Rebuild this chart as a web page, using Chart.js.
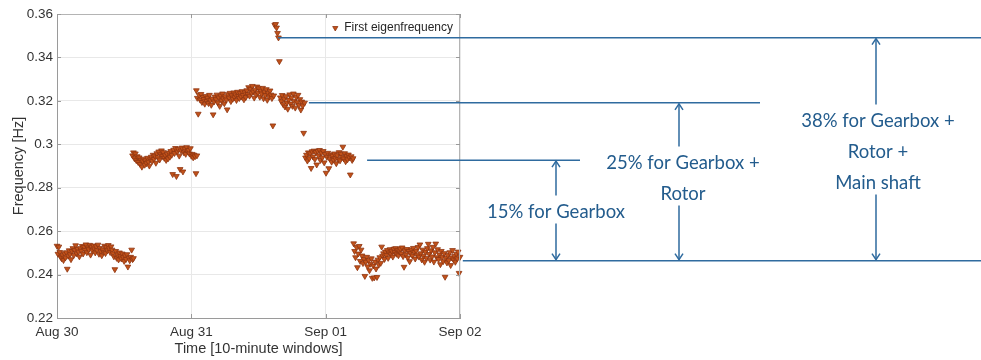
<!DOCTYPE html>
<html>
<head>
<meta charset="utf-8">
<script src="https://cdn.jsdelivr.net/npm/chart.js@4.4.1/dist/chart.umd.min.js"></script>
<style>
  html, body { margin: 0; padding: 0; background: #ffffff; }
  canvas { display: block; }
</style>
</head>
<body>
<canvas id="chart" width="981" height="360"></canvas>
<script>
// Time axis: hours since Aug 30 00:00
const xTickHours = [0, 24, 48, 72];
const xTickLabels = ['Aug 30', 'Aug 31', 'Sep 01', 'Sep 02'];
const yTickValues = [0.22, 0.24, 0.26, 0.28, 0.30, 0.32, 0.34, 0.36];
const yTickLabels = ['0.22', '0.24', '0.26', '0.28', '0.3', '0.32', '0.34', '0.36'];

// Identified first eigenfrequency [Hz], one value per 10-minute window.
// Each run starts at the given hour and continues without gaps.
const runStartHours = [0.0, 13.5, 24.9, 44.4, 53.0];

const freqRun1 = [
  0.2532, 0.2495, 0.2528, 0.2503, 0.2481, 0.2474, 0.2489, 0.2466, 0.2497, 0.2478,
  0.2502, 0.2426, 0.2486, 0.2511, 0.2493, 0.2470, 0.2508, 0.2521, 0.2489, 0.2512,
  0.2534, 0.2497, 0.2518, 0.2505, 0.2483, 0.2521, 0.2509, 0.2531, 0.2496, 0.2527,
  0.2513, 0.2538, 0.2502, 0.2524, 0.2516, 0.2536, 0.2491, 0.2528, 0.2510, 0.2533,
  0.2519, 0.2501, 0.2529, 0.2512, 0.2537, 0.2495, 0.2522, 0.2507, 0.2488, 0.2515,
  0.2504, 0.2532, 0.2498, 0.2526, 0.2511, 0.2535, 0.2520, 0.2503, 0.2529, 0.2514,
  0.2497, 0.2483, 0.2424, 0.2508, 0.2476, 0.2492, 0.2469, 0.2501, 0.2484, 0.2473,
  0.2496, 0.2479, 0.2462, 0.2488, 0.2471, 0.2493, 0.2436, 0.2477, 0.2465, 0.2481,
  0.2514, 0.2470, 0.2475
];

const freqRun2 = [
  0.2948, 0.2962, 0.2935, 0.2957, 0.2926, 0.2944, 0.2918, 0.2939, 0.2909, 0.2928,
  0.2896, 0.2921, 0.2933, 0.2905, 0.2926, 0.2912, 0.2937, 0.2919, 0.2901, 0.2930,
  0.2942, 0.2923, 0.2951, 0.2932, 0.2947, 0.2914, 0.2958, 0.2940, 0.2966, 0.2929,
  0.2953, 0.2971, 0.2945, 0.2963, 0.2937, 0.2949, 0.2927, 0.2955, 0.2934, 0.2961,
  0.2942, 0.2968, 0.2951, 0.2862, 0.2974, 0.2959, 0.2982, 0.2853, 0.2966, 0.2978,
  0.2947, 0.2885, 0.2971, 0.2984, 0.2874, 0.2962, 0.2979, 0.2955, 0.2986, 0.2968,
  0.2973, 0.2957, 0.2981, 0.2946, 0.2955, 0.2939, 0.2951, 0.2944, 0.2866, 0.2948
];

const freqRun3 = [
  0.3248, 0.3213, 0.3140, 0.3226, 0.3205, 0.3231, 0.3194, 0.3217, 0.3208, 0.3186,
  0.3222, 0.3199, 0.3214, 0.3189, 0.3227, 0.3203, 0.3181, 0.3210, 0.3137, 0.3196,
  0.3219, 0.3207, 0.3228, 0.3192, 0.3215, 0.3176, 0.3224, 0.3201, 0.3233, 0.3211,
  0.3188, 0.3221, 0.3205, 0.3160, 0.3230, 0.3214, 0.3236, 0.3198, 0.3225, 0.3209,
  0.3238, 0.3216, 0.3229, 0.3203, 0.3241, 0.3222, 0.3212, 0.3235, 0.3219, 0.3244,
  0.3226, 0.3206, 0.3239, 0.3217, 0.3248, 0.3231, 0.3262, 0.3223, 0.3255, 0.3237,
  0.3268, 0.3242, 0.3214, 0.3251, 0.3229, 0.3265, 0.3238, 0.3257, 0.3218, 0.3246,
  0.3233, 0.3259, 0.3211, 0.3241, 0.3226, 0.3253, 0.3204, 0.3236, 0.3219, 0.3247,
  0.3228, 0.3212, 0.3086, 0.3224, 0.3549, 0.3553, 0.3537, 0.3512, 0.3491, 0.3382,
  0.3215, 0.3198, 0.3226, 0.3184, 0.3209, 0.3173, 0.3221, 0.3192, 0.3163, 0.3205,
  0.3229, 0.3187, 0.3214, 0.3176, 0.3233, 0.3199, 0.3168, 0.3218, 0.3193, 0.3227,
  0.3181, 0.3207, 0.3159, 0.3196, 0.3178, 0.3052, 0.3191
];

const freqRun4 = [
  0.2938, 0.2951, 0.2924, 0.2962, 0.2935, 0.2958, 0.2890, 0.2967, 0.2943, 0.2970,
  0.2931, 0.2964, 0.2906, 0.2969, 0.2948, 0.2973, 0.2927, 0.2961, 0.2939, 0.2968,
  0.2916, 0.2955, 0.2868, 0.2942, 0.2960, 0.2889, 0.2933, 0.2952, 0.2919, 0.2947,
  0.2928, 0.2957, 0.2936, 0.2912, 0.2949, 0.2931, 0.2963, 0.2925, 0.2956, 0.2941,
  0.2988, 0.2934, 0.2958, 0.2921, 0.2946, 0.2930, 0.2952, 0.2939, 0.2860, 0.2944,
  0.2927, 0.2935
];

const freqRun5 = [
  0.2543, 0.2508, 0.2479, 0.2526, 0.2433, 0.2496, 0.2531, 0.2462, 0.2514, 0.2487,
  0.2452, 0.2471, 0.2393, 0.2458, 0.2481, 0.2437, 0.2466, 0.2419, 0.2449, 0.2474,
  0.2384, 0.2441, 0.2386, 0.2459, 0.2427, 0.2388, 0.2468, 0.2445, 0.2479, 0.2453,
  0.2528, 0.2486, 0.2497, 0.2471, 0.2505, 0.2489, 0.2512, 0.2476, 0.2501, 0.2516,
  0.2493, 0.2509, 0.2482, 0.2518, 0.2503, 0.2521, 0.2495, 0.2513, 0.2488, 0.2506,
  0.2519, 0.2497, 0.2524, 0.2484, 0.2435, 0.2511, 0.2492, 0.2517, 0.2478, 0.2508,
  0.2461, 0.2499, 0.2515, 0.2487, 0.2522, 0.2503, 0.2473, 0.2510, 0.2491, 0.2526,
  0.2482, 0.2538, 0.2497, 0.2469, 0.2514, 0.2486, 0.2458, 0.2505, 0.2476, 0.2521,
  0.2541, 0.2494, 0.2468, 0.2511, 0.2483, 0.2527, 0.2459, 0.2502, 0.2542, 0.2479,
  0.2516, 0.2471, 0.2492, 0.2447, 0.2508, 0.2481, 0.2461, 0.2498, 0.2389, 0.2476,
  0.2455, 0.2489, 0.2466, 0.2502, 0.2443, 0.2478, 0.2512, 0.2469, 0.2485, 0.2458,
  0.2495, 0.2474, 0.2505, 0.2407, 0.2481
];

const freqRuns = [freqRun1, freqRun2, freqRun3, freqRun4, freqRun5];
const windowHours = 10 / 60;

// Frequency levels marked on the right-hand side [Hz]
const levelNames     = ['Main shaft', 'Rotor', 'Gearbox', 'Baseline'];
const levelValues    = [0.3491, 0.3191, 0.2927, 0.2464];
const levelFromHours = [39.5, 45.0, 55.4, 72.5];

// Relative change captions, one bracket per level (top to bottom lines of text)
const bracketLevels = [0.2927, 0.3191, 0.3491];
const bracketTexts = [
  ['15% for Gearbox'],
  ['25% for Gearbox +', 'Rotor'],
  ['38% for Gearbox +', 'Rotor +', 'Main shaft']
];

const points = [];
freqRuns.forEach((run, r) => {
  run.forEach((f, i) => points.push({ x: runStartHours[r] + i * windowHours, y: f }));
});

const axisFont = 'Liberation Sans, Arial, Helvetica, sans-serif';
const noteColor = '#235c8d';
const noteLine = '#2f6b9f';

// Box around the axes with inward tick marks on all four sides
const axesBoxPlugin = {
  id: 'axesBox',
  afterDatasetsDraw(chart) {
    const { ctx, chartArea: a, scales } = chart;
    ctx.save();
    ctx.lineWidth = 1;
    ctx.strokeStyle = '#b4b4b4';
    ctx.beginPath();
    ctx.moveTo(a.left, a.top + 0.5); ctx.lineTo(a.right, a.top + 0.5);
    ctx.moveTo(a.right - 0.5, a.top); ctx.lineTo(a.right - 0.5, a.bottom);
    ctx.stroke();
    ctx.strokeStyle = '#9a9a9a';
    ctx.beginPath();
    const t = 4;
    xTickHours.forEach(h => {
      const px = Math.round(scales.x.getPixelForValue(h)) + 0.5;
      ctx.moveTo(px, a.bottom); ctx.lineTo(px, a.bottom - t);
      ctx.moveTo(px, a.top); ctx.lineTo(px, a.top + t);
    });
    yTickValues.forEach(v => {
      const py = Math.round(scales.y.getPixelForValue(v)) + 0.5;
      ctx.moveTo(a.left, py); ctx.lineTo(a.left + t, py);
      ctx.moveTo(a.right, py); ctx.lineTo(a.right - t, py);
    });
    ctx.stroke();
    ctx.restore();
  }
};

// Legend entry in the upper right corner of the axes
const cornerLegendPlugin = {
  id: 'cornerLegend',
  afterDatasetsDraw(chart) {
    const { ctx, chartArea: a } = chart;
    const ds = chart.data.datasets[0];
    ctx.save();
    ctx.font = '12px ' + axisFont;
    const w = ctx.measureText(ds.label).width;
    const tx = a.right - 7 - w;
    const ty = a.top + 14;
    const mx = tx - 9;
    const r = 3;
    ctx.beginPath();
    ctx.moveTo(mx - r * 0.866, ty - r * 0.5);
    ctx.lineTo(mx + r * 0.866, ty - r * 0.5);
    ctx.lineTo(mx, ty + r);
    ctx.closePath();
    ctx.fillStyle = ds.pointBackgroundColor;
    ctx.strokeStyle = ds.pointBorderColor;
    ctx.lineWidth = ds.pointBorderWidth;
    ctx.fill();
    ctx.stroke();
    ctx.fillStyle = '#262626';
    ctx.textBaseline = 'middle';
    ctx.fillText(ds.label, tx, ty);
    ctx.restore();
  }
};

// Level lines and double arrows with captions to the right of the axes
const levelNotesPlugin = {
  id: 'levelNotes',
  afterDraw(chart) {
    const { ctx, scales, width } = chart;
    const yPx = v => scales.y.getPixelForValue(v);
    const lineEnds = [width, 760, 580, width];
    ctx.save();
    ctx.strokeStyle = noteLine;
    ctx.lineWidth = 1.5;
    levelValues.forEach((v, i) => {
      const y = yPx(v);
      ctx.beginPath();
      ctx.moveTo(scales.x.getPixelForValue(levelFromHours[i]), y);
      ctx.lineTo(lineEnds[i], y);
      ctx.stroke();
    });

    const base = yPx(levelValues[3]);
    const arrowX = [556, 679, 876];
    const textX = [556, 683, 878];
    const firstLineY = [212.5, 163.5, 121.5];
    const lineGap = 31;
    const head = (x, y, dir) => {
      ctx.beginPath();
      ctx.moveTo(x - 4, y - dir * 6);
      ctx.lineTo(x, y);
      ctx.lineTo(x + 4, y - dir * 6);
      ctx.stroke();
    };

    ctx.font = '18.5px Lato, "Open Sans", sans-serif';
    ctx.textAlign = 'center';
    ctx.textBaseline = 'middle';
    ctx.fillStyle = noteColor;
    bracketLevels.forEach((lv, i) => {
      const top = yPx(lv);
      const lines = bracketTexts[i];
      const textTop = firstLineY[i] - 17;
      const textBottom = firstLineY[i] + (lines.length - 1) * lineGap + 11;
      ctx.lineWidth = 1.5;
      ctx.beginPath();
      ctx.moveTo(arrowX[i], textTop);
      ctx.lineTo(arrowX[i], top + 1);
      ctx.moveTo(arrowX[i], textBottom);
      ctx.lineTo(arrowX[i], base - 1);
      ctx.stroke();
      head(arrowX[i], top + 1, -1);
      head(arrowX[i], base - 1, 1);
      lines.forEach((s, k) => ctx.fillText(s, textX[i], firstLineY[i] + k * lineGap));
    });
    ctx.restore();
  }
};

new Chart(document.getElementById('chart'), {
  type: 'scatter',
  data: {
    datasets: [{
      label: 'First eigenfrequency',
      data: points,
      showLine: false,
      pointStyle: 'triangle',
      pointRotation: 180,
      pointRadius: 3.3,
      pointBackgroundColor: '#c2521a',
      pointBorderColor: '#8e3510',
      pointBorderWidth: 0.8,
      clip: 6
    }]
  },
  options: {
    responsive: false,
    animation: false,
    devicePixelRatio: 1,
    layout: { padding: { left: 0, top: 14, right: 521, bottom: 0 } },
    plugins: { legend: { display: false }, tooltip: { enabled: false } },
    scales: {
      x: {
        type: 'linear',
        position: 'bottom',
        min: 0,
        max: 72,
        afterBuildTicks: s => { s.ticks = xTickHours.map(v => ({ value: v })); },
        afterFit: s => { s.height = 42; },
        ticks: {
          callback: (v, i) => xTickLabels[i],
          font: { family: axisFont, size: 13.5 },
          color: '#333333',
          padding: 6,
          maxRotation: 0,
          autoSkip: false
        },
        grid: { color: '#e8e8e8', drawTicks: false },
        border: { display: true, color: '#9a9a9a' },
        title: {
          display: true,
          text: 'Time [10-minute windows]',
          font: { family: axisFont, size: 14.5 },
          color: '#333333',
          padding: { top: 0, bottom: 2 }
        }
      },
      y: {
        type: 'linear',
        position: 'left',
        min: 0.22,
        max: 0.36,
        afterBuildTicks: s => { s.ticks = yTickValues.map(v => ({ value: v })); },
        afterFit: s => { s.width = 57; },
        ticks: {
          callback: (v, i) => yTickLabels[i],
          font: { family: axisFont, size: 13.5 },
          color: '#333333',
          padding: 4
        },
        grid: { color: '#e8e8e8', drawTicks: false },
        border: { display: true, color: '#9a9a9a' },
        title: {
          display: true,
          text: 'Frequency [Hz]',
          font: { family: axisFont, size: 14.5 },
          color: '#333333',
          padding: { top: 10, bottom: 0 }
        }
      }
    }
  },
  plugins: [axesBoxPlugin, cornerLegendPlugin, levelNotesPlugin]
});
</script>
</body>
</html>
